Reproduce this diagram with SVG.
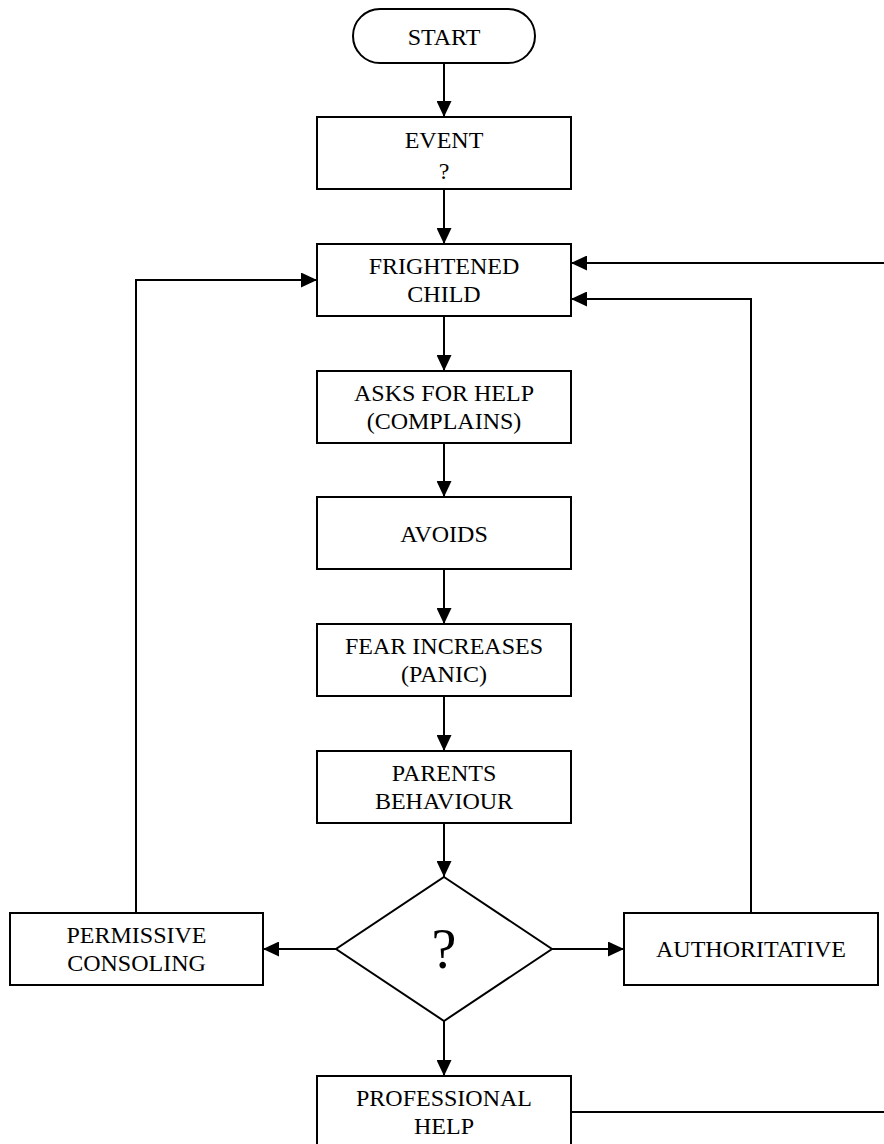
<svg xmlns="http://www.w3.org/2000/svg" width="884" height="1144" viewBox="0 0 884 1144">
  <style>
    .box { fill: #ffffff; stroke: #000000; stroke-width: 2; }
    .lbl { font-family: "Liberation Serif", "Times New Roman", serif; font-size: 24px; fill: #000000; text-anchor: middle; }
    .big { font-size: 56px; }
    .wire { fill: none; stroke: #000000; stroke-width: 2; }
    .arrow { marker-end: url(#head); }
  </style>
  <defs>
    <marker id="head" viewBox="0 0 16 15" markerWidth="16" markerHeight="15" refX="16" refY="7.5" orient="auto" markerUnits="userSpaceOnUse">
      <path d="M0,0 L16,7.5 L0,15 Z" fill="#000000"/>
    </marker>
  </defs>
  <rect width="884" height="1144" fill="#ffffff"/>

  <!-- connectors -->
  <g id="connectors">
    <line class="wire arrow" x1="444" y1="63" x2="444" y2="117"/>
    <line class="wire arrow" x1="444" y1="189" x2="444" y2="244"/>
    <line class="wire arrow" x1="444" y1="316" x2="444" y2="371"/>
    <line class="wire arrow" x1="444" y1="443" x2="444" y2="497"/>
    <line class="wire arrow" x1="444" y1="569" x2="444" y2="624"/>
    <line class="wire arrow" x1="444" y1="696" x2="444" y2="751"/>
    <line class="wire arrow" x1="444" y1="823" x2="444" y2="877"/>
    <line class="wire arrow" x1="444" y1="1021" x2="444" y2="1076"/>
    <line class="wire arrow" x1="336" y1="949" x2="263" y2="949"/>
    <line class="wire arrow" x1="552" y1="949" x2="624" y2="949"/>
    <!-- permissive loop back to the frightened child -->
    <polyline class="wire arrow" points="136,913 136,280 317,280"/>
    <!-- authoritative loop back to the frightened child -->
    <polyline class="wire arrow" points="751,913 751,299 571,299"/>
    <!-- return path entering from the page edge -->
    <line class="wire arrow" x1="884" y1="263" x2="571" y2="263"/>
    <!-- professional help leaving to the page edge -->
    <line class="wire" x1="571" y1="1112" x2="884" y2="1112"/>
  </g>

  <g id="start">
    <rect class="box" x="353" y="9" width="182" height="54" rx="27" ry="27"/>
    <text class="lbl" x="444" y="45">START</text>
  </g>

  <g id="event">
    <rect class="box" x="317" y="117" width="254" height="72"/>
    <text class="lbl" x="444" y="148">EVENT</text>
    <text class="lbl" x="444" y="179">?</text>
  </g>

  <g id="frightened-child">
    <rect class="box" x="317" y="244" width="254" height="72"/>
    <text class="lbl" x="444" y="274">FRIGHTENED</text>
    <text class="lbl" x="444" y="302">CHILD</text>
  </g>

  <g id="asks-for-help">
    <rect class="box" x="317" y="371" width="254" height="72"/>
    <text class="lbl" x="444" y="401">ASKS FOR HELP</text>
    <text class="lbl" x="444" y="429">(COMPLAINS)</text>
  </g>

  <g id="avoids">
    <rect class="box" x="317" y="497" width="254" height="72"/>
    <text class="lbl" x="444" y="542">AVOIDS</text>
  </g>

  <g id="fear-increases">
    <rect class="box" x="317" y="624" width="254" height="72"/>
    <text class="lbl" x="444" y="654">FEAR INCREASES</text>
    <text class="lbl" x="444" y="682">(PANIC)</text>
  </g>

  <g id="parents-behaviour">
    <rect class="box" x="317" y="751" width="254" height="72"/>
    <text class="lbl" x="444" y="781">PARENTS</text>
    <text class="lbl" x="444" y="809">BEHAVIOUR</text>
  </g>

  <g id="decision">
    <polygon class="box" points="444,877 552,949 444,1021 336,949"/>
    <text class="lbl big" x="444" y="968">?</text>
  </g>

  <g id="permissive-consoling">
    <rect class="box" x="10" y="913" width="253" height="72"/>
    <text class="lbl" x="136.5" y="943">PERMISSIVE</text>
    <text class="lbl" x="136.5" y="971">CONSOLING</text>
  </g>

  <g id="authoritative">
    <rect class="box" x="624" y="913" width="254" height="72"/>
    <text class="lbl" x="751" y="957">AUTHORITATIVE</text>
  </g>

  <g id="professional-help">
    <rect class="box" x="317" y="1076" width="254" height="72"/>
    <text class="lbl" x="444" y="1106">PROFESSIONAL</text>
    <text class="lbl" x="444" y="1134">HELP</text>
  </g>
</svg>
